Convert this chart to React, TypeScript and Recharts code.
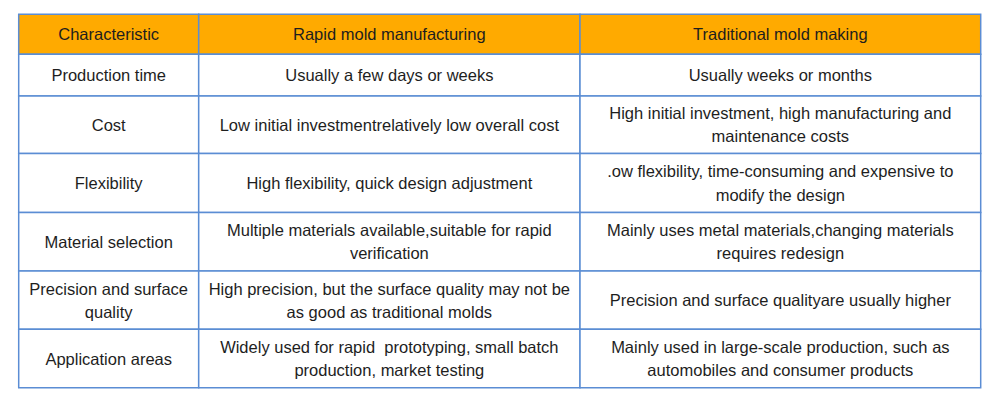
import { ComposedChart, XAxis, YAxis, ReferenceArea } from 'recharts';

// Table content
const headers = ['Characteristic', 'Rapid mold manufacturing', 'Traditional mold making'];

const characteristics = [
  ['Production time'],
  ['Cost'],
  ['Flexibility'],
  ['Material selection'],
  ['Precision and surface', 'quality'],
  ['Application areas'],
];

const rapidMold = [
  ['Usually a few days or weeks'],
  ['Low initial investmentrelatively low overall cost'],
  ['High flexibility, quick design adjustment'],
  ['Multiple materials available,suitable for rapid', 'verification'],
  ['High precision, but the surface quality may not be', 'as good as traditional molds'],
  ['Widely used for rapid  prototyping, small batch', 'production, market testing'],
];

const traditionalMold = [
  ['Usually weeks or months'],
  ['High initial investment, high manufacturing and', 'maintenance costs'],
  ['.ow flexibility, time-consuming and expensive to', 'modify the design'],
  ['Mainly uses metal materials,changing materials', 'requires redesign'],
  ['Precision and surface qualityare usually higher'],
  ['Mainly used in large-scale production, such as', 'automobiles and consumer products'],
];

// layout (chart units = px)
const W = 1000;
const H = 401;
const colEdges = [18.7, 198.7, 580, 980.7];
const rowEdges = [14.3, 54.3, 96, 153.5, 212.5, 271, 329.3, 387.7];

const BORDER = '#5b8dd4';
const HEADER_FILL = '#ffaa00';
const FONT = '"Liberation Sans", Arial, sans-serif';
const LINE_H = 23.3;

function CellText(props: any) {
  const { viewBox, lines } = props;
  if (!viewBox) return null;
  const cx = viewBox.x + viewBox.width / 2;
  const cy = viewBox.y + viewBox.height / 2;
  const start = cy - ((lines.length - 1) * LINE_H) / 2;
  return (
    <text
      textAnchor="middle"
      fontFamily={FONT}
      fontSize={16.5}
      fill="#1e1e1e"
      style={{ whiteSpace: 'pre' }}
    >
      {lines.map((l: string, i: number) => (
        <tspan key={i} x={cx} y={start + i * LINE_H} dominantBaseline="central">
          {l}
        </tspan>
      ))}
    </text>
  );
}

export default function App() {
  const rows = [headers.map((h) => [h])].concat(
    characteristics.map((c, i) => [c, rapidMold[i], traditionalMold[i]])
  );

  return (
    <div style={{ margin: -8, width: W, height: H, background: '#fff' }}>
      <ComposedChart width={W} height={H} data={rows} margin={{ top: 0, right: 0, bottom: 0, left: 0 }}>
        <XAxis type="number" dataKey="x" domain={[0, W]} hide allowDataOverflow />
        <YAxis type="number" domain={[0, H]} reversed hide allowDataOverflow />
        {rows.map((row, r) =>
          row.map((lines, c) => (
            <ReferenceArea
              key={`${r}-${c}`}
              x1={colEdges[c]}
              x2={colEdges[c + 1]}
              y1={rowEdges[r]}
              y2={rowEdges[r + 1]}
              fill={r === 0 ? HEADER_FILL : '#ffffff'}
              fillOpacity={1}
              stroke={BORDER}
              strokeWidth={1.5}
              label={<CellText lines={lines} />}
            />
          ))
        )}
      </ComposedChart>
    </div>
  );
}
